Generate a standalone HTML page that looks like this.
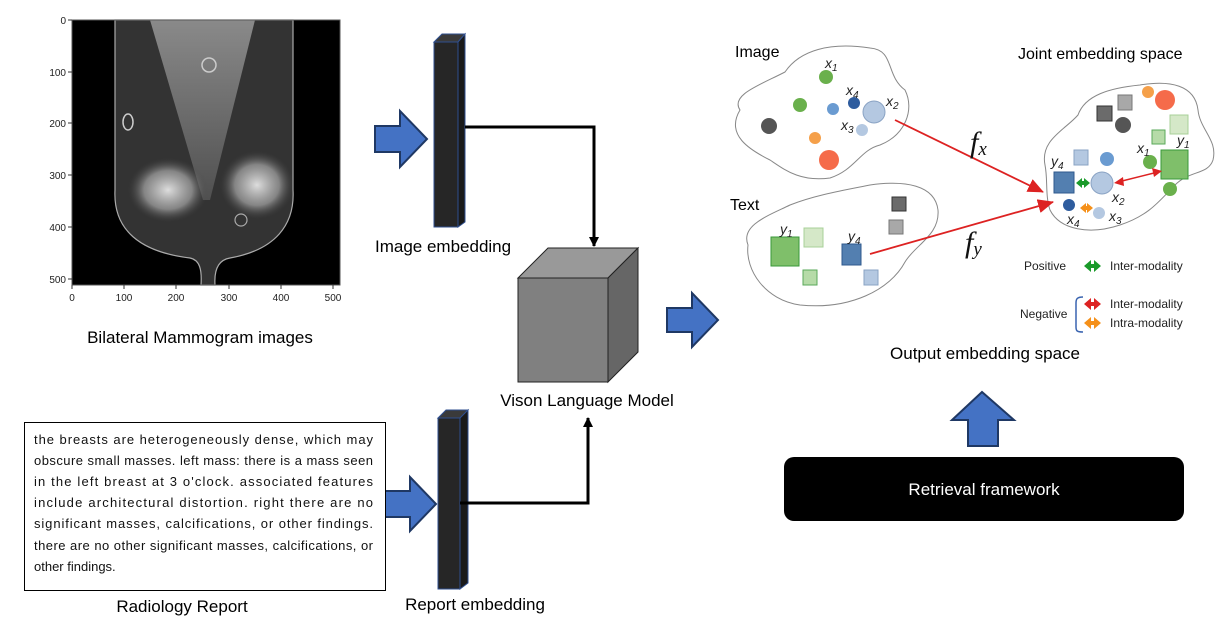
<!DOCTYPE html>
<html><head><meta charset="utf-8"><style>
html,body{margin:0;padding:0;background:#fff}
svg{display:block}
text{font-family:"Liberation Sans",sans-serif}
.m{font-family:"Liberation Serif",serif;font-style:italic}
</style></head><body>
<svg width="1226" height="623" viewBox="0 0 1226 623" xmlns="http://www.w3.org/2000/svg">
<defs>
<marker id="ah" markerWidth="10" markerHeight="10" refX="9" refY="5" orient="auto" markerUnits="userSpaceOnUse"><path d="M0,0 L10,5 L0,10 z" fill="#000"/></marker>
<marker id="rh" markerWidth="16" markerHeight="14" refX="15" refY="7" orient="auto" markerUnits="userSpaceOnUse"><path d="M0,0 L16,7 L0,14 z" fill="#d22"/></marker>
<radialGradient id="dn" cx="0.5" cy="0.5" r="0.5"><stop offset="0" stop-color="#ddd"/><stop offset="0.6" stop-color="#999" stop-opacity="0.8"/><stop offset="1" stop-color="#444" stop-opacity="0"/></radialGradient>
<linearGradient id="vg" x1="0" y1="0" x2="0" y2="1"><stop offset="0" stop-color="#999"/><stop offset="1" stop-color="#555"/></linearGradient>
</defs>

<!-- Mammogram axes -->
<rect x="72" y="20" width="268" height="265" fill="#000"/>
<path d="M115,20 L115,190 C113,230 140,252 190,258 C200,260 202,270 201,285 L215,285 C214,270 218,260 230,258 C275,250 295,225 293,190 L293,20 Z" fill="#333" stroke="#aaa" stroke-width="1.2"/>
<path d="M150,20 L255,20 L210,200 L203,200 Z" fill="url(#vg)" opacity="0.85"/>
<ellipse cx="168" cy="190" rx="40" ry="32" fill="url(#dn)"/>
<ellipse cx="257" cy="185" rx="37" ry="34" fill="url(#dn)"/>
<circle cx="209" cy="65" r="7" fill="none" stroke="#ccc" stroke-width="1.5"/>
<ellipse cx="128" cy="122" rx="5" ry="8" fill="none" stroke="#ccc" stroke-width="1.5"/>
<circle cx="241" cy="220" r="6" fill="none" stroke="#aaa" stroke-width="1.2"/>
<rect x="72" y="20" width="268" height="265" fill="none" stroke="#555" stroke-width="1"/>
<g stroke="#333" stroke-width="1">
<line x1="68" y1="20" x2="72" y2="20"/><line x1="68" y1="72" x2="72" y2="72"/><line x1="68" y1="123" x2="72" y2="123"/><line x1="68" y1="175" x2="72" y2="175"/><line x1="68" y1="227" x2="72" y2="227"/><line x1="68" y1="279" x2="72" y2="279"/>
<line x1="72" y1="285" x2="72" y2="289"/><line x1="124" y1="285" x2="124" y2="289"/><line x1="176" y1="285" x2="176" y2="289"/><line x1="229" y1="285" x2="229" y2="289"/><line x1="281" y1="285" x2="281" y2="289"/><line x1="333" y1="285" x2="333" y2="289"/>
</g>
<g font-size="10" fill="#222" text-anchor="end">
<text x="66" y="24">0</text><text x="66" y="76">100</text><text x="66" y="127">200</text><text x="66" y="179">300</text><text x="66" y="231">400</text><text x="66" y="283">500</text>
</g>
<g font-size="10" fill="#222" text-anchor="middle">
<text x="72" y="301">0</text><text x="124" y="301">100</text><text x="176" y="301">200</text><text x="229" y="301">300</text><text x="281" y="301">400</text><text x="333" y="301">500</text>
</g>
<text x="200" y="343" font-size="17" text-anchor="middle" fill="#000">Bilateral Mammogram images</text>

<!-- Image embedding -->
<path d="M375,126 L400,126 L400,111 L427,139 L400,167 L400,152 L375,152 Z" fill="#4472c4" stroke="#1f3864" stroke-width="2"/>
<path d="M434,42 L442,34 L465,34 L458,42 Z" fill="#3a3a3a" stroke="#2f4f8f" stroke-width="1"/>
<path d="M458,42 L465,34 L465,222 L458,227 Z" fill="#1a1a1a" stroke="#2f4f8f" stroke-width="1"/>
<rect x="434" y="42" width="24" height="185" fill="#262626" stroke="#2f4f8f" stroke-width="1"/>
<polyline points="465,127 594,127 594,246" fill="none" stroke="#000" stroke-width="3" marker-end="url(#ah)"/>
<text x="375" y="252" font-size="17" fill="#000">Image embedding</text>

<!-- Cube -->
<path d="M518,278 L548,248 L638,248 L608,278 Z" fill="#999" stroke="#222" stroke-width="1"/>
<path d="M608,278 L638,248 L638,352 L608,382 Z" fill="#666" stroke="#222" stroke-width="1"/>
<rect x="518" y="278" width="90" height="104" fill="#808080" stroke="#222" stroke-width="1"/>
<text x="587" y="406" font-size="17" text-anchor="middle" fill="#000">Vison Language Model</text>
<path d="M667,308 L692,308 L692,293 L718,320 L692,347 L692,332 L667,332 Z" fill="#4472c4" stroke="#1f3864" stroke-width="2"/>

<!-- Report embedding -->
<path d="M384,491 L410,491 L410,477 L436,504 L410,531 L410,517 L384,517 Z" fill="#4472c4" stroke="#1f3864" stroke-width="2"/>
<path d="M438,418 L446,410 L468,410 L460,418 Z" fill="#3a3a3a" stroke="#2f4f8f" stroke-width="1"/>
<path d="M460,418 L468,410 L468,583 L460,589 Z" fill="#1a1a1a" stroke="#2f4f8f" stroke-width="1"/>
<rect x="438" y="418" width="22" height="171" fill="#262626" stroke="#2f4f8f" stroke-width="1"/>
<polyline points="460,503 588,503 588,418" fill="none" stroke="#000" stroke-width="3" marker-end="url(#ah)"/>
<text x="475" y="610" font-size="17" text-anchor="middle" fill="#000">Report embedding</text>

<!-- Report box -->
<rect x="24.5" y="422.5" width="361" height="168" fill="#fff" stroke="#000" stroke-width="1"/>
<g font-size="13" fill="#111">
<text x="34" y="444" textLength="339" lengthAdjust="spacing">the breasts are heterogeneously dense, which may</text>
<text x="34" y="465" textLength="339" lengthAdjust="spacing">obscure small masses.   left mass: there is a mass seen</text>
<text x="34" y="486" textLength="339" lengthAdjust="spacing">in the left breast at 3 o'clock. associated features</text>
<text x="34" y="507" textLength="339" lengthAdjust="spacing">include architectural distortion. right there are no</text>
<text x="34" y="528" textLength="339" lengthAdjust="spacing">significant masses, calcifications, or other findings.</text>
<text x="34" y="550" textLength="339" lengthAdjust="spacing">there are no other significant masses, calcifications, or</text>
<text x="34" y="571">other findings.</text>
</g>
<text x="182" y="612" font-size="17" text-anchor="middle" fill="#000">Radiology Report</text>

<!-- Right panel -->
<text x="735" y="57" font-size="16" fill="#000">Image</text>
<text x="1018" y="59" font-size="16" fill="#000">Joint embedding space</text>
<text x="730" y="210" font-size="16" fill="#000">Text</text>

<path d="M740,110 C730,95 760,85 785,72 C800,50 830,42 870,48 C895,50 885,75 905,90 C915,110 905,135 880,145 C860,150 855,170 830,178 C800,182 785,170 770,160 C750,150 725,135 740,110 Z" fill="#fff" stroke="#888" stroke-width="1"/>
<path d="M748,245 C740,225 770,215 790,205 C815,195 845,190 870,185 C905,180 935,185 938,210 C940,235 915,245 905,262 C890,290 850,310 800,305 C765,300 745,270 748,245 Z" fill="#fff" stroke="#888" stroke-width="1"/>
<path d="M1045,165 C1040,140 1065,130 1078,115 C1085,95 1110,88 1140,85 C1170,80 1195,85 1198,110 C1200,130 1218,140 1213,160 C1208,175 1190,170 1175,185 C1160,200 1150,215 1120,225 C1090,235 1060,230 1050,210 C1045,195 1048,180 1045,165 Z" fill="#fff" stroke="#888" stroke-width="1"/>

<!-- image blob items -->
<circle cx="826" cy="77" r="7" fill="#6ab04c"/>
<circle cx="800" cy="105" r="7" fill="#6ab04c"/>
<circle cx="833" cy="109" r="6" fill="#6a9bd1"/>
<circle cx="854" cy="103" r="6" fill="#2e5c9e"/>
<circle cx="874" cy="112" r="11" fill="#b4c8e1" stroke="#8aa3c4"/>
<circle cx="862" cy="130" r="6" fill="#b4c8e1"/>
<circle cx="769" cy="126" r="8" fill="#555"/>
<circle cx="815" cy="138" r="6" fill="#f5a04a"/>
<circle cx="829" cy="160" r="10" fill="#f56b4a"/>
<g class="m" font-size="14" fill="#222">
<text x="825" y="68">x<tspan font-size="10" dy="3">1</tspan></text>
<text x="846" y="95">x<tspan font-size="10" dy="3">4</tspan></text>
<text x="886" y="106">x<tspan font-size="10" dy="3">2</tspan></text>
<text x="841" y="130">x<tspan font-size="10" dy="3">3</tspan></text>
</g>

<!-- text blob items -->
<rect x="771" y="237" width="28" height="29" fill="#7fbf6a" stroke="#3a9a3a"/>
<rect x="804" y="228" width="19" height="19" fill="#d5e8c8" stroke="#a8d098"/>
<rect x="803" y="270" width="14" height="15" fill="#b6dba8" stroke="#5aa85a"/>
<rect x="842" y="244" width="19" height="21" fill="#537fb0" stroke="#2f5a8e"/>
<rect x="864" y="270" width="14" height="15" fill="#b4c8e1" stroke="#8aa3c4"/>
<rect x="892" y="197" width="14" height="14" fill="#6b6b6b" stroke="#333"/>
<rect x="889" y="220" width="14" height="14" fill="#a8a8a8" stroke="#777"/>
<g class="m" font-size="14" fill="#222">
<text x="780" y="234">y<tspan font-size="10" dy="3">1</tspan></text>
<text x="848" y="241">y<tspan font-size="10" dy="3">4</tspan></text>
</g>

<!-- arrows fx fy -->
<line x1="895" y1="120" x2="1043" y2="192" stroke="#d22" stroke-width="1.8" marker-end="url(#rh)"/>
<line x1="870" y1="254" x2="1053" y2="202" stroke="#d22" stroke-width="1.8" marker-end="url(#rh)"/>
<text class="m" x="970" y="152" font-size="30" fill="#111">f<tspan font-size="19" dy="3">x</tspan></text>
<text class="m" x="965" y="252" font-size="30" fill="#111">f<tspan font-size="19" dy="3">y</tspan></text>

<!-- joint items -->
<rect x="1097" y="106" width="15" height="15" fill="#6b6b6b" stroke="#333"/>
<rect x="1118" y="95" width="14" height="15" fill="#a8a8a8" stroke="#777"/>
<circle cx="1123" cy="125" r="8" fill="#555"/>
<circle cx="1148" cy="92" r="6" fill="#f5a04a"/>
<circle cx="1165" cy="100" r="10" fill="#f56b4a"/>
<rect x="1170" y="115" width="18" height="19" fill="#d5e8c8" stroke="#a8d098"/>
<rect x="1152" y="130" width="13" height="14" fill="#b6dba8" stroke="#5aa85a"/>
<circle cx="1150" cy="162" r="7" fill="#6ab04c"/>
<rect x="1161" y="150" width="27" height="29" fill="#7fbf6a" stroke="#3a9a3a"/>
<circle cx="1170" cy="189" r="7" fill="#6ab04c"/>
<rect x="1074" y="150" width="14" height="15" fill="#b4c8e1" stroke="#8aa3c4"/>
<circle cx="1107" cy="159" r="7" fill="#6a9bd1"/>
<rect x="1054" y="172" width="20" height="21" fill="#537fb0" stroke="#2f5a8e"/>
<circle cx="1102" cy="183" r="11" fill="#b4c8e1" stroke="#8aa3c4"/>
<circle cx="1069" cy="205" r="6" fill="#2e5c9e"/>
<circle cx="1099" cy="213" r="6" fill="#b4c8e1"/>
<path d="M1076,183 L1082,178 L1082,181 L1084,181 L1084,178 L1090,183 L1084,188 L1084,185 L1082,185 L1082,188 Z" fill="#1a9a2a"/>
<path d="M1080,208 L1086,203 L1086,206 L1087,206 L1087,203 L1093,208 L1087,213 L1087,210 L1086,210 L1086,213 Z" fill="#f5901a"/>
<line x1="1118" y1="182" x2="1158" y2="172" stroke="#d22" stroke-width="1.5"/>
<path d="M1114,183 L1123,177 L1124,186 Z" fill="#d22"/>
<path d="M1162,171 L1152,168 L1154,177 Z" fill="#d22"/>
<g class="m" font-size="14" fill="#222">
<text x="1051" y="166">y<tspan font-size="10" dy="3">4</tspan></text>
<text x="1177" y="145">y<tspan font-size="10" dy="3">1</tspan></text>
<text x="1137" y="153">x<tspan font-size="10" dy="3">1</tspan></text>
<text x="1112" y="202">x<tspan font-size="10" dy="3">2</tspan></text>
<text x="1067" y="224">x<tspan font-size="10" dy="3">4</tspan></text>
<text x="1109" y="221">x<tspan font-size="10" dy="3">3</tspan></text>
</g>

<!-- legend -->
<g font-size="12" fill="#222">
<text x="1024" y="270">Positive</text>
<text x="1110" y="270">Inter-modality</text>
<text x="1020" y="318">Negative</text>
<text x="1110" y="308">Inter-modality</text>
<text x="1110" y="327">Intra-modality</text>
</g>
<path d="M1084,266 L1091,260 L1091,264 L1094,264 L1094,260 L1101,266 L1094,272 L1094,268 L1091,268 L1091,272 Z" fill="#1a9a2a"/>
<path d="M1084,304 L1091,298 L1091,302 L1094,302 L1094,298 L1101,304 L1094,310 L1094,306 L1091,306 L1091,310 Z" fill="#d22"/>
<path d="M1084,323 L1091,317 L1091,321 L1094,321 L1094,317 L1101,323 L1094,329 L1094,325 L1091,325 L1091,329 Z" fill="#f5901a"/>
<path d="M1083,297 C1077,297 1076,299 1076,303 L1076,327 C1076,331 1077,332 1083,332" fill="none" stroke="#3a64b0" stroke-width="1.5"/>
<text x="985" y="359" font-size="17" text-anchor="middle" fill="#000">Output embedding space</text>

<!-- retrieval -->
<path d="M968,446 L968,420 L952,420 L982,392 L1014,420 L998,420 L998,446 Z" fill="#4472c4" stroke="#1f3864" stroke-width="2"/>
<rect x="784" y="457" width="400" height="64" rx="10" fill="#000"/>
<text x="984" y="495" font-size="17" text-anchor="middle" fill="#fff">Retrieval framework</text>
</svg>
</body></html>
